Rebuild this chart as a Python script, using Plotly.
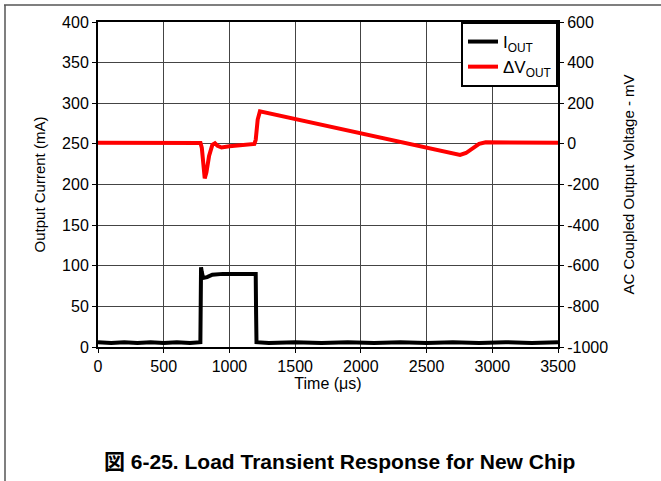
import plotly.graph_objects as go

# Output current I_OUT (mA) vs time (us)
iout_t = [0, 100, 200, 300, 400, 500, 600, 700, 779, 781, 784, 790, 800, 830, 870, 950,
          1050, 1150, 1200, 1203, 1206, 1300, 1500, 1700, 1900, 2100, 2300, 2500, 2700,
          2900, 3100, 3300, 3500]
iout_v = [6, 5, 6, 5, 6, 5, 6, 5, 6, 60, 98, 92, 85, 86, 89, 90,
          90, 90, 90, 40, 6, 5, 6, 5, 6, 5, 6, 5, 6,
          5, 6, 5, 6]

# AC coupled output voltage deltaV_OUT (mV) vs time (us)
dv_t = [0, 200, 400, 600, 740, 780, 790, 800, 812, 825, 845, 870, 890, 910, 940, 1000,
        1100, 1190, 1200, 1215, 1232, 1260, 1500, 1800, 2100, 2375, 2600, 2755, 2800,
        2850, 2900, 2950, 3000, 3200, 3500]
dv_v = [5, 4, 5, 6, 5, 4, -20, -100, -170, -140, -60, -5, 3, -10, -18, -12,
        -5, 0, 20, 120, 160, 156, 122, 80, 38, 0, -32, -54, -45,
        -25, 0, 8, 8, 5, 5]

x_ticks = [0, 500, 1000, 1500, 2000, 2500, 3000, 3500]
y1_ticks = [0, 50, 100, 150, 200, 250, 300, 350, 400]
y2_ticks = [-1000, -800, -600, -400, -200, 0, 200, 400, 600]
y2_labels = ["-1000", "-800", "-600", "-400", "-200", "0", "200", "400", "600"]

FONT = "Liberation Sans, Arial, sans-serif"

fig = go.Figure()
fig.add_trace(go.Scatter(x=iout_t, y=iout_v, mode="lines", name="I<sub>OUT</sub>",
                         line=dict(color="black", width=4), yaxis="y"))
fig.add_trace(go.Scatter(x=dv_t, y=dv_v, mode="lines", name="ΔV<sub>OUT</sub>",
                         line=dict(color="#ff0000", width=4), yaxis="y2"))

fig.update_layout(
    width=661, height=481,
    margin=dict(l=98, r=103, t=22, b=134),
    paper_bgcolor="white", plot_bgcolor="white",
    font=dict(family=FONT, size=15, color="black"),
    showlegend=True,
    legend=dict(x=1, y=1, xanchor="right", yanchor="top",
                bgcolor="white", bordercolor="black", borderwidth=2,
                font=dict(size=17), tracegroupgap=0, itemwidth=30),
    xaxis=dict(range=[0, 3500], tickvals=x_ticks, showgrid=True,
               gridcolor="#444", gridwidth=1, showline=True, linecolor="black",
               linewidth=2, mirror=True, ticks="outside", ticklen=4,
               tickcolor="black", zeroline=False, tickfont=dict(size=16),
               title=dict(text="Time (μs)", standoff=2, font=dict(size=16))),
    yaxis=dict(range=[0, 400], tickvals=y1_ticks, showgrid=True,
               gridcolor="#444", gridwidth=1, showline=True, linecolor="black",
               linewidth=2, mirror=True, ticks="outside", ticklen=4,
               tickcolor="black", zeroline=False, tickfont=dict(size=16),
               title=dict(text="Output Current (mA)", standoff=13, font=dict(size=15))),
    yaxis2=dict(range=[-1000, 600], tickvals=y2_ticks, ticktext=y2_labels,
                overlaying="y", side="right", showgrid=False, showline=True,
                linecolor="black", linewidth=2, ticks="outside", ticklen=4,
                tickcolor="black", zeroline=False, tickfont=dict(size=16),
                title=dict(text="AC Coupled Output Voltage - mV", standoff=16,
                           font=dict(size=15))),
)

# Figure frame (top and left border lines of the document box)
fig.add_shape(type="line", xref="paper", yref="paper",
              x0=(4 - 98) / 460, x1=(661 - 98) / 460,
              y0=(347 - 5) / 325, y1=(347 - 5) / 325,
              line=dict(color="#555", width=1.5))
fig.add_shape(type="line", xref="paper", yref="paper",
              x0=(5 - 98) / 460, x1=(5 - 98) / 460,
              y0=(347 - 5) / 325, y1=(347 - 481) / 325,
              line=dict(color="#555", width=1.5))

fig.add_annotation(text="<b>図 6-25. Load Transient Response for New Chip</b>",
                   xref="paper", yref="paper",
                   x=(339 - 98) / 460, y=(347 - 461) / 325,
                   xanchor="center", yanchor="middle", showarrow=False,
                   font=dict(size=21, family=FONT + ", Noto Sans CJK JP"))

fig.write_html("out.html", config={"displayModeBar": False},
               post_script="document.body.style.margin='0px';")
